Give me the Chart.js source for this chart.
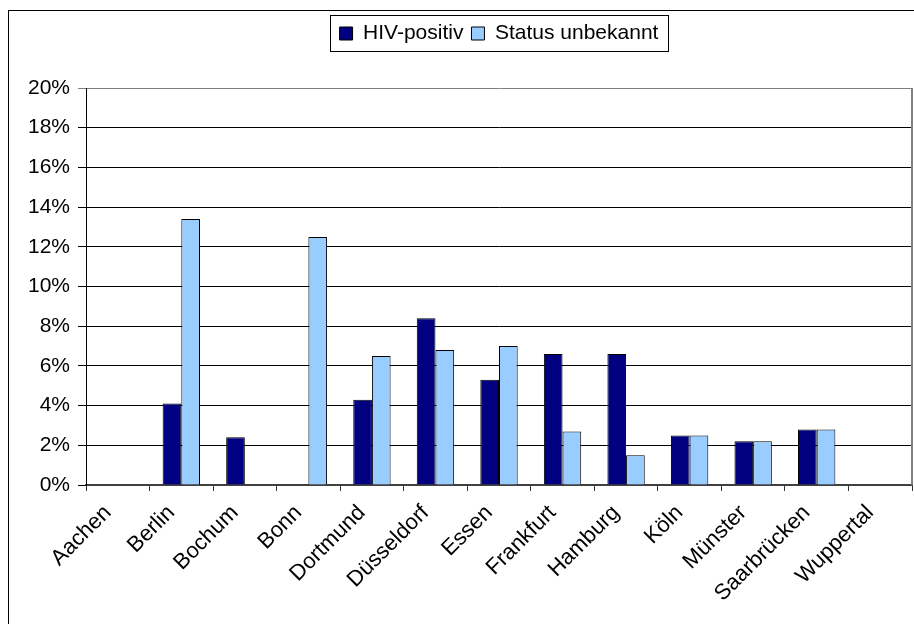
<!DOCTYPE html>
<html>
<head>
    <title>HIV-positiv / Status unbekannt</title>
    <script src="https://cdn.jsdelivr.net/npm/chart.js"></script>
    <style>
        body { margin: 0; background: #fff; overflow: hidden; }
        #frame { position: absolute; left: 8px; top: 10px; width: 1000px; height: 1000px; border: 1px solid #000; }
        #wrap { position: absolute; left: 0; top: 0; width: 914px; height: 624px; }
    </style>
</head>
<body>
    <div id="frame"></div>
    <div id="wrap"><canvas id="chart"></canvas></div>

    <script>
        // Daten
        const categories = ['Aachen', 'Berlin', 'Bochum', 'Bonn', 'Dortmund', 'Düsseldorf', 'Essen',
            'Frankfurt', 'Hamburg', 'Köln', 'Münster', 'Saarbrücken', 'Wuppertal'];
        const hivPositiv = [null, 4.1, 2.4, null, 4.3, 8.4, 5.3, 6.6, 6.6, 2.5, 2.2, 2.8, null];
        const statusUnbekannt = [null, 13.4, null, 12.5, 6.5, 6.8, 7.0, 2.7, 1.5, 2.5, 2.2, 2.8, null];
        const seriesNames = ['HIV-positiv', 'Status unbekannt'];
        const yTicks = [0, 2, 4, 6, 8, 10, 12, 14, 16, 18, 20];

        Chart.defaults.font.family = '"Liberation Sans", Arial, sans-serif';
        Chart.defaults.font.size = 21;
        Chart.defaults.color = '#000';

        // Legende: Abstand nach unten und Rahmen
        const legendFrame = {
            id: 'legendFrame',
            beforeLayout(chart) {
                const lg = chart.legend;
                if (lg && !lg._spaced) {
                    const fit = lg.fit;
                    lg.fit = function () { fit.call(this); this.height += 34; };
                    lg._spaced = true;
                }
            },
            afterDraw(chart) {
                const ctx = chart.ctx;
                const area = chart.chartArea;
                ctx.save();
                // rechter Rand der Zeichenfläche
                ctx.strokeStyle = '#808080';
                ctx.lineWidth = 2;
                ctx.beginPath();
                ctx.moveTo(area.right, area.top);
                ctx.lineTo(area.right, area.bottom);
                ctx.stroke();

                const boxes = chart.legend.legendHitBoxes;
                if (boxes && boxes.length) {
                    const first = boxes[0], last = boxes[boxes.length - 1];
                    const x1 = Math.round(first.left - 10) + 0.5;
                    const x2 = Math.round(last.left + last.width + 10) + 0.5;
                    const y1 = Math.round(first.top - 8) + 0.5;
                    const y2 = Math.round(first.top + first.height + 7) + 0.5;
                    ctx.strokeStyle = '#000';
                    ctx.lineWidth = 1;
                    ctx.strokeRect(x1, y1, x2 - x1, y2 - y1);
                }
                ctx.restore();
            }
        };

        new Chart(document.getElementById('chart'), {
            type: 'bar',
            data: {
                labels: categories,
                datasets: [{
                    label: seriesNames[0],
                    data: hivPositiv,
                    backgroundColor: '#000080',
                    borderColor: '#000',
                    borderWidth: 1
                }, {
                    label: seriesNames[1],
                    data: statusUnbekannt,
                    backgroundColor: '#99CCFF',
                    borderColor: '#000',
                    borderWidth: 1
                }]
            },
            options: {
                responsive: true,
                maintainAspectRatio: false,
                animation: false,
                layout: { padding: { top: 15, right: 2, bottom: 0, left: 0 } },
                datasets: { bar: { barPercentage: 1, categoryPercentage: 0.588 } },
                plugins: {
                    legend: {
                        position: 'top',
                        fullSize: false,
                        labels: { boxWidth: 13, boxHeight: 13, padding: 8, color: '#000' }
                    },
                    tooltip: { enabled: false }
                },
                scales: {
                    x: {
                        offset: true,
                        grid: { offset: true, drawOnChartArea: false, tickLength: 6, color: '#333' },
                        border: { color: '#404040', width: 2 },
                        ticks: {
                            autoSkip: false, minRotation: 45, maxRotation: 45,
                            padding: 9, labelOffset: -10, font: { size: 22 }
                        },
                        afterFit(scale) { scale.height = 139; }
                    },
                    y: {
                        min: 0,
                        max: 20,
                        afterBuildTicks(scale) { scale.ticks = yTicks.map(v => ({ value: v })); },
                        grid: {
                            tickLength: 8,
                            color: (c) => (c.tick && c.tick.value === 20) ? '#808080' : '#000'
                        },
                        border: { color: '#000', width: 1 },
                        ticks: { padding: 8, callback: v => v + '%' },
                        afterFit(scale) { scale.width = 86; }
                    }
                }
            },
            plugins: [legendFrame]
        });
    </script>
</body>
</html>
